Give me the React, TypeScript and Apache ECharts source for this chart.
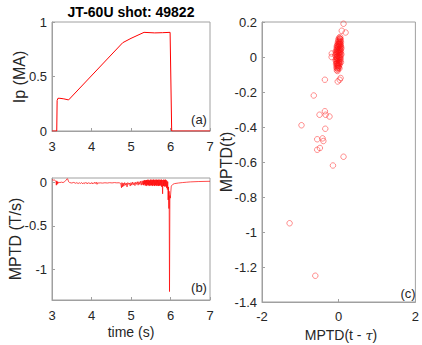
import React, { useEffect, useRef } from "react";
import * as echarts from "echarts";

// Panel (a): plasma current Ip (MA) vs time (s)
const ipTime = [3.0, 3.12, 3.13, 3.15, 3.2, 3.3, 3.42, 4.79, 5.0, 5.33, 5.6, 5.8, 5.99, 6.03, 7.0];
const ipValue = [0, 0, 0.28, 0.3, 0.3, 0.295, 0.285, 0.81, 0.85, 0.905, 0.9, 0.902, 0.905, 0, 0];

// Panel (b): MPTD (T/s) vs time (s), [t, value]
const mptdTrace: number[][] = [
  [3.0, 0.03], [3.02, 0.032], [3.04, 0.028], [3.06, 0.03], [3.08, 0.025], [3.1, 0.01],
  [3.11, -0.03], [3.12, 0.02], [3.13, -0.02], [3.14, 0.01], [3.15, -0.01], [3.17, 0.005],
  [3.2, 0.0], [3.24, 0.005], [3.28, 0.0], [3.32, 0.01], [3.36, 0.03], [3.38, 0.045],
  [3.4, 0.04], [3.42, 0.01], [3.45, 0.0], [3.5, -0.005], [3.55, 0.002], [3.6, -0.008],
  [3.63, 0.0], [3.66, -0.012], [3.69, -0.002], [3.72, -0.01], [3.75, 0.0], [3.78, -0.015],
  [3.8, -0.003], [3.82, -0.012], [3.84, 0.002], [3.86, -0.01], [3.88, -0.002], [3.9, -0.014],
  [3.92, 0.0], [3.94, -0.01], [3.96, -0.004], [3.98, -0.012], [4.0, 0.0], [4.02, -0.015],
  [4.04, -0.002], [4.06, -0.012], [4.08, 0.003], [4.1, -0.01], [4.12, 0.005], [4.14, -0.02],
  [4.16, 0.0], [4.18, -0.006], [4.22, -0.003], [4.28, -0.006], [4.34, -0.002], [4.4, -0.005],
  [4.46, -0.001], [4.52, -0.004], [4.58, 0.0], [4.64, -0.003], [4.7, -0.002], [4.74, -0.01],
  [4.76, -0.06], [4.77, 0.0], [4.79, -0.05], [4.8, -0.005], [4.82, -0.04], [4.84, 0.0],
  [4.86, -0.03], [4.88, -0.005], [4.9, -0.05], [4.92, 0.0], [4.94, -0.02], [4.96, -0.005],
  [4.98, -0.04], [5.0, 0.0], [5.02, -0.03], [5.04, 0.005], [5.06, -0.025], [5.08, 0.0],
  [5.1, -0.035], [5.12, 0.005], [5.14, -0.02], [5.16, 0.01], [5.18, -0.03], [5.2, 0.01],
  [5.22, -0.02], [5.24, 0.015], [5.26, -0.03], [5.28, 0.02], [5.3, -0.025], [5.31, 0.02],
  [5.32, -0.03], [5.33, 0.025], [5.34, -0.02], [5.35, 0.03], [5.36, -0.035], [5.37, 0.025],
  [5.38, -0.03], [5.39, 0.03], [5.4, -0.04], [5.41, 0.03], [5.42, -0.025], [5.43, 0.035],
  [5.44, -0.03], [5.45, 0.03], [5.46, -0.04], [5.47, 0.025], [5.48, -0.03], [5.49, 0.035],
  [5.5, -0.035], [5.51, 0.03], [5.52, -0.03], [5.53, 0.035], [5.54, -0.04], [5.55, 0.03],
  [5.56, -0.03], [5.57, 0.035], [5.58, -0.035], [5.59, 0.03], [5.6, -0.04], [5.61, 0.035],
  [5.62, -0.03], [5.63, 0.03], [5.64, -0.035], [5.65, 0.035], [5.66, -0.04], [5.67, 0.03],
  [5.68, -0.03], [5.69, 0.035], [5.7, -0.04], [5.71, 0.03], [5.72, -0.035], [5.73, 0.035],
  [5.74, -0.03], [5.75, 0.03], [5.76, -0.04], [5.77, 0.035], [5.78, -0.05], [5.79, 0.03],
  [5.8, -0.13], [5.81, 0.03], [5.82, -0.04], [5.83, 0.035], [5.84, -0.04], [5.85, 0.03],
  [5.86, -0.05], [5.87, 0.035], [5.88, -0.04], [5.89, 0.03], [5.9, -0.06], [5.91, 0.02],
  [5.92, -0.08], [5.93, 0.01], [5.94, -0.2], [5.95, -0.05], [5.96, -0.3], [5.965, -0.1],
  [5.975, -1.26], [5.985, -0.15], [5.995, -0.18], [6.02, -0.04], [6.06, -0.02], [6.1, -0.012],
  [6.2, -0.005], [6.3, 0.0], [6.4, 0.004], [6.5, 0.008], [6.7, 0.012], [7.0, 0.015],
];

// Panel (c): MPTD(t) vs MPTD(t - tau), [x, y]
const scatterCluster: number[][] = [
  [0.01, 0.11], [0.03, 0.105], [0.05, 0.1], [-0.01, 0.1], [0.02, 0.095], [0.04, 0.09],
  [0.0, 0.09], [0.06, 0.085], [-0.02, 0.085], [0.03, 0.08], [0.01, 0.075], [-0.03, 0.075],
  [0.05, 0.07], [-0.01, 0.07], [0.02, 0.065], [-0.04, 0.065], [0.06, 0.06], [0.0, 0.06],
  [-0.02, 0.055], [0.04, 0.055], [-0.05, 0.05], [0.02, 0.05], [0.05, 0.045], [-0.03, 0.045],
  [0.0, 0.04], [-0.06, 0.04], [0.03, 0.035], [-0.02, 0.035], [0.06, 0.03], [-0.04, 0.03],
  [0.01, 0.025], [-0.07, 0.02], [0.04, 0.02], [-0.01, 0.02], [-0.05, 0.015], [0.02, 0.01],
  [0.05, 0.01], [-0.03, 0.005], [-0.06, 0.0], [0.0, 0.0], [0.03, -0.005], [-0.04, -0.01],
  [-0.07, -0.01], [0.01, -0.015], [0.04, -0.02], [-0.02, -0.02], [-0.06, -0.025], [0.02, -0.03],
  [-0.04, -0.035], [0.0, -0.035], [-0.07, -0.04], [0.03, -0.04], [-0.02, -0.045], [-0.05, -0.05],
  [0.01, -0.05], [-0.03, -0.055], [-0.06, -0.06], [0.0, -0.06], [-0.04, -0.065], [-0.02, -0.07],
  [-0.05, -0.075], [-0.03, -0.08], [0.07, 0.05], [0.07, 0.015], [-0.08, 0.03], [-0.08, -0.02],
  [0.05, -0.01], [0.04, 0.075], [-0.05, 0.06], [0.06, -0.03], [-0.09, 0.01], [0.02, -0.065],
  [0.02, 0.085], [0.0, 0.075], [0.035, 0.065], [-0.015, 0.06], [0.045, 0.04], [0.015, 0.04],
  [-0.035, 0.04], [-0.015, 0.025], [0.025, 0.025], [-0.055, 0.025], [0.015, 0.0], [-0.015, 0.005],
  [-0.045, 0.0], [0.045, 0.0], [-0.025, -0.01], [0.015, -0.02], [-0.045, -0.02], [0.01, -0.035],
  [-0.025, -0.035], [-0.055, -0.035], [-0.01, -0.05], [-0.035, -0.045], [-0.015, -0.06], [0.04, 0.105],
];
const scatterOutliers: number[][] = [
  [0.126, 0.19], [0.18, 0.14], [0.08, 0.15], [0.04, 0.115], [-0.18, 0.02], [-0.185, 0.0],
  [-0.36, -0.13], [-0.025, -0.14], [0.025, -0.13], [0.05, -0.12], [-0.65, -0.22], [-0.36, -0.31],
  [-0.5, -0.33], [-0.34, -0.33], [-0.24, -0.34], [-0.97, -0.39], [-0.35, -0.41], [-0.56, -0.47],
  [-0.42, -0.465], [-0.4, -0.48], [-0.49, -0.52], [-0.56, -0.53], [0.126, -0.57], [-0.15, -0.62],
  [-1.28, -0.95], [-0.61, -1.25],
];

const FONT = "Liberation Sans";
const TXT = "#262626";
const FRAME = "#a0a0a0";

function valueAxis(extra: any) {
  return {
    type: "value",
    scale: true,
    splitLine: { show: false },
    axisLine: { show: true, onZero: false, lineStyle: { color: FRAME, width: 1 } },
    axisTick: { show: true, inside: true, length: 3, lineStyle: { color: FRAME } },
    axisLabel: { color: TXT, fontFamily: FONT, fontSize: 13, margin: 5 },
    ...extra,
  };
}

export default function App() {
  const ref = useRef<HTMLDivElement>(null);
  useEffect(() => {
    if (!ref.current) return;
    const chart = echarts.init(ref.current, undefined, { renderer: "svg" });
    const gridStyle = { show: true, borderColor: FRAME, borderWidth: 1, backgroundColor: "transparent" };
    const xLabel = { color: TXT, fontFamily: FONT, fontSize: 13, margin: 9 };
    const txt = (text: string, x: number, y: number, size: number, extra: any = {}) => ({
      type: "text",
      x,
      y,
      style: {
        text,
        fill: TXT,
        font: `${extra.bold ? "bold " : ""}${size}px "${FONT}"`,
        align: "center",
        verticalAlign: "middle",
        ...(extra.style || {}),
      },
      rotation: extra.rotation || 0,
    });
    const markStyle = { color: "rgba(255,0,0,0)", borderColor: "rgba(255,20,20,0.85)", borderWidth: 0.7 };
    chart.setOption({
      animation: false,
      backgroundColor: "#ffffff",
      grid: [
        { left: 52, top: 22, width: 158, height: 109, ...gridStyle },
        { left: 52, top: 178, width: 158, height: 122, ...gridStyle },
        { left: 262, top: 22, width: 158, height: 280, ...gridStyle },
      ],
      xAxis: [
        valueAxis({ gridIndex: 0, min: 3, max: 7, interval: 1, axisLabel: xLabel }),
        valueAxis({ gridIndex: 1, min: 3, max: 7, interval: 1, axisLabel: xLabel }),
        valueAxis({ gridIndex: 2, min: -2, max: 2, interval: 2, axisLabel: { ...xLabel, margin: 8 } }),
      ],
      yAxis: [
        valueAxis({ gridIndex: 0, min: 0, max: 1, interval: 0.5 }),
        valueAxis({
          gridIndex: 1,
          min: -1.357,
          max: 0.053,
          axisTick: { show: true, inside: true, length: 3, lineStyle: { color: FRAME }, customValues: [-1, -0.5, 0] },
          axisLabel: { color: TXT, fontFamily: FONT, fontSize: 13, margin: 5, customValues: [-1, -0.5, 0] },
        }),
        valueAxis({ gridIndex: 2, min: -1.4, max: 0.2, interval: 0.2 }),
      ],
      series: [
        {
          type: "line",
          xAxisIndex: 0,
          yAxisIndex: 0,
          data: ipTime.map((t, i) => [t, ipValue[i]]),
          showSymbol: false,
          lineStyle: { color: "#ff0000", width: 1 },
        },
        {
          type: "line",
          xAxisIndex: 1,
          yAxisIndex: 1,
          data: mptdTrace,
          showSymbol: false,
          lineStyle: { color: "#ff0000", width: 0.7 },
        },
        {
          type: "scatter",
          xAxisIndex: 2,
          yAxisIndex: 2,
          data: scatterCluster,
          symbol: "circle",
          symbolSize: 5.5,
          itemStyle: markStyle,
        },
        {
          type: "scatter",
          xAxisIndex: 2,
          yAxisIndex: 2,
          data: scatterOutliers,
          symbol: "circle",
          symbolSize: 5.5,
          itemStyle: markStyle,
        },
      ],
      graphic: [
        txt("JT-60U shot: 49822", 131, 12, 14, { bold: true, style: { fill: "#000" } }),
        txt("Ip (MA)", 19, 77, 16, { rotation: Math.PI / 2 }),
        txt("MPTD (T/s)", 15, 239, 16, { rotation: Math.PI / 2 }),
        txt("MPTD(t)", 226, 162, 16, { rotation: Math.PI / 2 }),
        txt("time (s)", 131, 332, 14),
        {
          type: "text",
          x: 341,
          y: 335,
          style: {
            text: "MPTD(t - {i|τ})",
            fill: TXT,
            font: `14px "${FONT}"`,
            align: "center",
            verticalAlign: "middle",
            rich: { i: { fontFamily: "DejaVu Serif", fontStyle: "italic", fontSize: 13, fill: TXT } },
          },
        },
        txt("(a)", 199, 119, 13),
        txt("(b)", 199, 287, 13),
        txt("(c)", 408, 293, 13),
      ],
    });
    return () => chart.dispose();
  }, []);
  return (
    <div
      ref={ref}
      style={{ position: "fixed", left: 0, top: 0, width: 422, height: 345, background: "#fff" }}
    />
  );
}
